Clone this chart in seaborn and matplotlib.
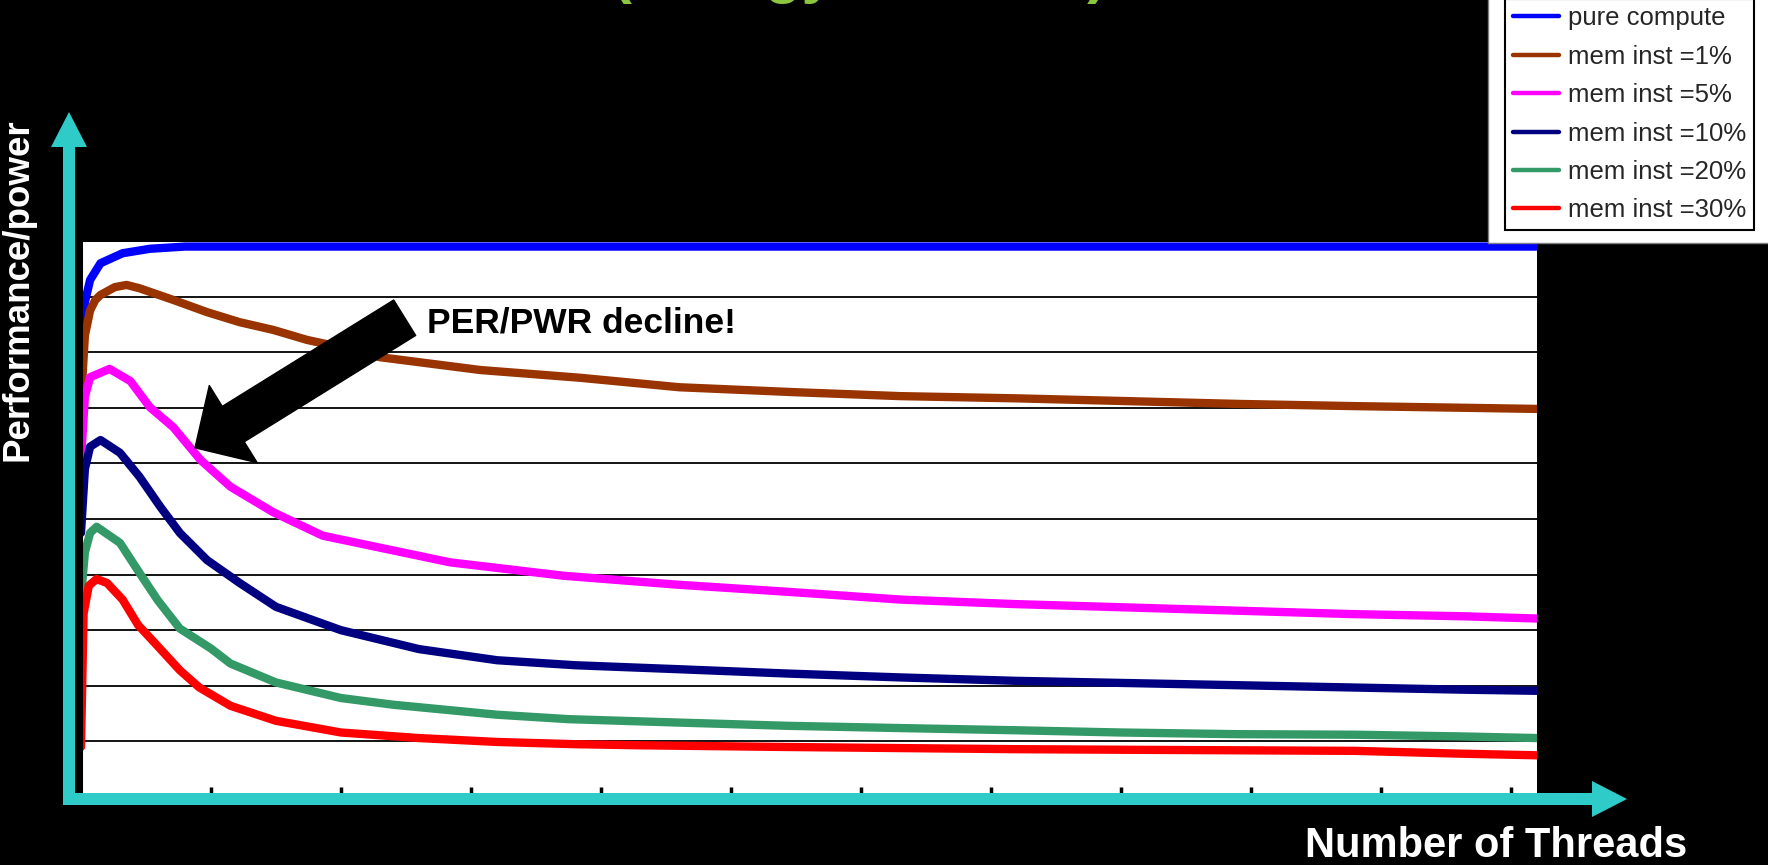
import pandas as pd
import seaborn as sns
import matplotlib.pyplot as plt
from matplotlib.patches import Polygon, Rectangle

sns.set_style("white")
plt.rcParams['font.family'] = ['Liberation Sans', 'DejaVu Sans']

# series: x = number of threads, y = perf/power in grid units
series_names = ["pure compute", "mem inst =1%", "mem inst =5%",
                "mem inst =10%", "mem inst =20%", "mem inst =30%"]
colors = ["#0000FF", "#993300", "#FF00FF", "#000080", "#339966", "#FF0000"]

x_pure = [0, 0.3, 0.7, 1.5, 3.2, 5.3, 8, 20, 40, 60, 80, 100, 112]
y_pure = [8.0, 8.9, 9.3, 9.6, 9.78, 9.86, 9.9, 9.9, 9.9, 9.9, 9.9, 9.9, 9.9]

x_m1 = [0, 0.3, 0.7, 1.1, 1.5, 2.6, 3.5, 4.5, 7.1, 9.7, 12.2, 14.8, 17.4, 19.2,
        23, 30.7, 38.4, 46, 55, 63, 72, 80.5, 89, 98, 106.5, 112]
y_m1 = [7.1, 8.3, 8.75, 8.94, 9.03, 9.17, 9.21, 9.15, 8.94, 8.72, 8.54, 8.4, 8.22, 8.13,
        7.91, 7.68, 7.54, 7.37, 7.28, 7.21, 7.17, 7.12, 7.07, 7.03, 7.0, 6.98]

x_m5 = [0, 0.3, 0.7, 2.2, 3.8, 5.3, 7.1, 9.2, 11.5, 14.8, 18.6, 28.4, 37.1, 45.8,
        54.4, 63.1, 71.8, 80.4, 89.1, 97.7, 106.4, 112]
y_m5 = [6.06, 7.2, 7.55, 7.7, 7.48, 7.01, 6.65, 6.06, 5.58, 5.12, 4.7, 4.22, 3.98, 3.82,
        3.69, 3.55, 3.47, 3.41, 3.35, 3.29, 3.25, 3.21]

x_m10 = [0, 0.3, 0.7, 1.5, 3.0, 4.5, 6.1, 7.6, 9.7, 12.2, 15, 20, 26, 32, 38,
         45.8, 54.4, 63.1, 71.8, 80.4, 89.1, 97.7, 106.4, 112]
y_m10 = [4.75, 5.9, 6.3, 6.42, 6.19, 5.76, 5.22, 4.75, 4.26, 3.85, 3.42, 3.0, 2.66, 2.46, 2.37,
         2.3, 2.22, 2.15, 2.09, 2.05, 2.01, 1.97, 1.93, 1.91]

x_m20 = [0, 0.3, 0.7, 1.2, 3.0, 4.5, 5.9, 7.6, 10, 11.5, 15, 20, 24, 28, 32, 37.5,
         45.8, 54.4, 63, 72, 80, 89, 98, 106, 112]
y_m20 = [3.6, 4.4, 4.75, 4.86, 4.57, 4.03, 3.54, 3.03, 2.67, 2.4, 2.06, 1.78, 1.66, 1.57, 1.48, 1.4,
         1.34, 1.28, 1.24, 1.2, 1.16, 1.13, 1.12, 1.09, 1.06]

x_m30 = [0, 0.2, 0.6, 1.2, 2.0, 3.2, 4.4, 5.6, 7.6, 9.1, 11.5, 15, 20, 26, 32, 38,
         43, 54, 63, 72, 80, 89, 98, 106, 112]
y_m30 = [0.9, 3.3, 3.8, 3.92, 3.85, 3.55, 3.09, 2.79, 2.28, 1.97, 1.64, 1.37, 1.16, 1.06, 0.99, 0.95,
         0.93, 0.9, 0.88, 0.86, 0.85, 0.84, 0.83, 0.78, 0.75]

xs = [x_pure, x_m1, x_m5, x_m10, x_m20, x_m30]
ys = [y_pure, y_m1, y_m5, y_m10, y_m20, y_m30]
df = pd.concat([pd.DataFrame({'threads': x, 'perf': y, 'series': name})
                for name, x, y in zip(series_names, xs, ys)], ignore_index=True)

W, H = 1768, 865
fig = plt.figure(figsize=(W / 100, H / 100), dpi=100, facecolor='black')
ax = fig.add_axes([81 / W, 1 - 797 / H, (1537 - 81) / W, (797 - 241) / H])
ax.set_facecolor('white')

sns.lineplot(data=df, x='threads', y='perf', hue='series', hue_order=series_names,
             palette=colors, estimator=None, sort=False, lw=6, ax=ax)

ax.set_xlim(0, 112)
ax.set_ylim(0, 10)
ax.set_yticks(range(0, 11))
ax.set_xticks(range(10, 111, 10))
ax.set_xticklabels([])
ax.set_yticklabels([])
ax.set_xlabel('')
ax.set_ylabel('')
ax.set_axisbelow(True)
ax.grid(axis='y', color='black', lw=1.3)
ax.grid(axis='x', visible=False)
ax.tick_params(axis='y', left=True, direction='out', length=4, width=1.3, color='black')
ax.tick_params(axis='x', bottom=True, direction='in', length=7, width=2.5, color='black')
for side in ['right', 'bottom']:
    ax.spines[side].set_visible(False)
ax.spines['left'].set_color('black')
ax.spines['left'].set_linewidth(2.2)
ax.spines['top'].set_color('black')
ax.spines['top'].set_linewidth(1.3)

# annotation
ax.annotate("", xy=(8.77, 6.28), xytext=(24.9, 8.62),
            arrowprops=dict(arrowstyle="simple,head_length=1.08,head_width=2.18,tail_width=1.0",
                            color="black", mutation_scale=30, shrinkA=0, shrinkB=0))
ax.text(38.5, 8.35, "PER/PWR decline!", ha='center', va='baseline',
        fontsize=25.5, fontweight='bold', color='black')

# legend
handles, labels = ax.get_legend_handles_labels()
ax.get_legend().remove()
leg = fig.legend(handles, labels, loc='lower left', bbox_to_anchor=(1505 / W, 1 - 230 / H),
                 fontsize=18.5, frameon=True, fancybox=False, edgecolor='black',
                 facecolor='white', framealpha=1, handlelength=1.8, handletextpad=0.36,
                 labelspacing=0.56, borderpad=0.3, borderaxespad=0)
leg.get_frame().set_linewidth(1.5)
for h in leg.legend_handles:
    h.set_linewidth(3.2)

# cyan axis arrows and white legend panel (pixel overlay)
deco = fig.add_axes([0, 0, 1, 1], zorder=3)
deco.set_xlim(0, W)
deco.set_ylim(H, 0)
deco.axis('off')
cyan = '#2FCBC9'
deco.add_patch(Polygon([(63, 805), (63, 147), (51, 147), (69, 112), (87, 147), (75, 147), (75, 805)],
                       closed=True, color=cyan, lw=0))
deco.add_patch(Polygon([(63, 793), (1592, 793), (1592, 781), (1627, 799), (1592, 817), (1592, 805), (63, 805)],
                       closed=True, color=cyan, lw=0))
deco.add_patch(Rectangle((1488, -5), 300, 248, facecolor='white', edgecolor='#808080', lw=1))

# texts (slide title runs off the top edge, only its descenders show)
fig.text(612 / W, 1 + 8 / H, "(Energy Efficient)", ha='left', va='baseline',
         fontsize=43, fontweight='bold', color='#8CC63F')
fig.text(18 / W, 1 - 290 / H, "Performance/power", rotation=90, ha='center', va='center',
         fontsize=26.5, fontweight='bold', color='white')
fig.text(1496 / W, 1 - 857 / H, "Number of Threads", ha='center', va='baseline',
         fontsize=30, fontweight='bold', color='white')

plt.savefig('out.png', dpi=100, facecolor='black')
